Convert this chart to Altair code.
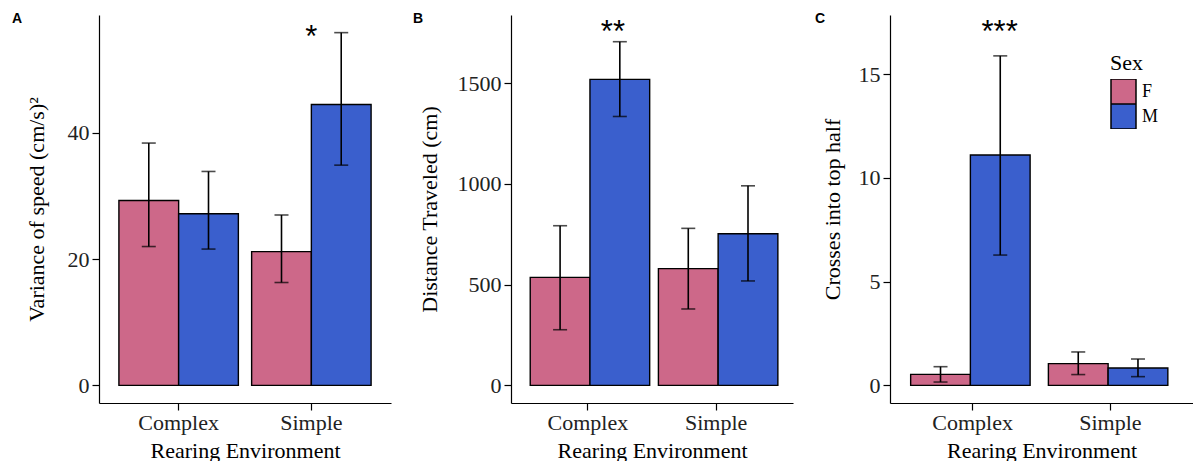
import altair as alt
import pandas as pd

categories = ["Complex", "Simple"]
sexes = ["F", "M"]
colors = ["#CD6889", "#3A5FCD"]

# Panel A: Variance of speed
a_mean_F = [29.3, 21.2]
a_mean_M = [27.2, 44.5]
a_lo_F = [22.0, 16.3]
a_lo_M = [21.6, 34.9]
a_hi_F = [38.4, 27.0]
a_hi_M = [33.9, 55.9]

# Panel B: Distance traveled
b_mean_F = [536, 579]
b_mean_M = [1518, 752]
b_lo_F = [276, 379]
b_lo_M = [1334, 518]
b_hi_F = [792, 779]
b_hi_M = [1705, 990]

# Panel C: Crosses into top half
c_mean_F = [0.53, 1.05]
c_mean_M = [11.1, 0.84]
c_lo_F = [0.16, 0.52]
c_lo_M = [6.28, 0.42]
c_hi_F = [0.90, 1.61]
c_hi_M = [15.88, 1.27]

# significance annotations (label, category, y value)
stars_label = ["*", "**", "***"]
stars_cat = ["Simple", "Complex", "Complex"]
stars_y = [53.6, 1703, 16.55]

# axis setup
y_domains = [[-2.795, 58.695], [-87.5, 1837.5], [-0.85, 17.85]]
y_ticks = [[0, 20, 40], [0, 500, 1000, 1500], [0, 5, 10, 15]]
y_titles = ["Variance of speed (cm/s)²", "Distance Traveled (cm)", "Crosses into top half"]
letters = ["A", "B", "C"]


def table(mF, mM, lF, lM, hF, hM):
    rows = []
    for i, c in enumerate(categories):
        rows.append({"env": c, "sex": "F", "mean": mF[i], "lo": lF[i], "hi": hF[i]})
        rows.append({"env": c, "sex": "M", "mean": mM[i], "lo": lM[i], "hi": hM[i]})
    return pd.DataFrame(rows)


dfs = [
    table(a_mean_F, a_mean_M, a_lo_F, a_lo_M, a_hi_F, a_hi_M),
    table(b_mean_F, b_mean_M, b_lo_F, b_lo_M, b_hi_F, b_hi_M),
    table(c_mean_F, c_mean_M, c_lo_F, c_lo_M, c_hi_F, c_hi_M),
]

widths = [292, 282, 303]
letter_dx = [-87, -98, -75]
star_dx = [0, 25, 27]
ytitle_pad = [19, 16, 14]


def panel(i, show_legend):
    df = dfs[i]
    xenc = alt.X("env:N", sort=categories, title="Rearing Environment",
                 scale=alt.Scale(paddingInner=0.1, paddingOuter=0.15),
                 axis=alt.Axis(labelAngle=0))
    xoff = alt.XOffset("sex:N", sort=sexes,
                       scale=alt.Scale(paddingInner=0, paddingOuter=0))
    yscale = alt.Scale(domain=y_domains[i], nice=False, zero=False)
    yaxis = alt.Axis(values=y_ticks[i], title=y_titles[i], format="d",
                     titlePadding=ytitle_pad[i])

    if show_legend:
        leg = alt.Legend(orient="none", legendX=220, legendY=38, title="Sex",
                         titleFont="Liberation Serif", titleFontSize=22,
                         titleFontWeight="normal", titleColor="black",
                         labelFont="Liberation Serif", labelFontSize=18,
                         labelColor="black", symbolType="square",
                         symbolSize=625, symbolStrokeColor="black",
                         symbolStrokeWidth=1.5, symbolOpacity=1,
                         rowPadding=0, clipHeight=25, labelOffset=5,
                         titlePadding=4, padding=0)
    else:
        leg = None

    base = alt.Chart(df).encode(x=xenc, xOffset=xoff)
    bars = base.mark_bar(stroke="black", strokeWidth=1.4, opacity=1).encode(
        y=alt.Y("mean:Q", stack=None, scale=yscale, axis=yaxis, title=y_titles[i]),
        y2=alt.datum(0),
        fill=alt.Fill("sex:N", scale=alt.Scale(domain=sexes, range=colors), legend=leg),
    )
    rules = base.mark_rule(color="black", strokeWidth=1.6).encode(
        y=alt.Y("lo:Q", scale=yscale, axis=yaxis, title=y_titles[i]),
        y2="hi:Q",
    )
    caps_lo = base.mark_tick(color="black", thickness=1.6, size=14, orient="horizontal").encode(
        y=alt.Y("lo:Q", scale=yscale, axis=yaxis, title=y_titles[i]),
    )
    caps_hi = base.mark_tick(color="black", thickness=1.6, size=14, orient="horizontal").encode(
        y=alt.Y("hi:Q", scale=yscale, axis=yaxis, title=y_titles[i]),
    )
    sdf = pd.DataFrame({"env": [stars_cat[i]], "label": [stars_label[i]], "ypos": [stars_y[i]]})
    stars = alt.Chart(sdf).mark_text(font="Liberation Sans", fontSize=31, color="black",
                                     baseline="alphabetic", dx=star_dx[i]).encode(
        x=xenc,
        y=alt.Y("ypos:Q", scale=yscale, axis=yaxis, title=y_titles[i]),
        text="label:N",
    )
    ldf = pd.DataFrame({"t": [letters[i]]})
    letter = alt.Chart(ldf).mark_text(font="Liberation Sans", fontWeight="bold", fontSize=14,
                                      align="left", baseline="alphabetic", color="black").encode(
        x=alt.value(letter_dx[i]), y=alt.value(8), text="t:N")
    return alt.layer(bars, rules, caps_lo, caps_hi, stars, letter).properties(
        width=widths[i], height=388)


chart = alt.hconcat(panel(0, False), panel(1, False), panel(2, True), spacing=22).resolve_scale(
    fill="independent"
).properties(
    padding={"left": 12, "top": 12, "right": 0, "bottom": 0}
).configure_view(stroke=None).configure_axis(
    domainColor="black", tickColor="black", domainWidth=1.2, tickWidth=1.2, tickSize=7,
    labelFont="Liberation Serif", labelFontSize=22, labelColor="#222222",
    titleFont="Liberation Serif", titleFontSize=22, titleFontWeight="normal",
    titleColor="black", grid=False, labelPadding=3,
).configure_axisX(titlePadding=7, labelPadding=2)

chart.save("out.html", embed_options={"renderer": "svg", "actions": False})
